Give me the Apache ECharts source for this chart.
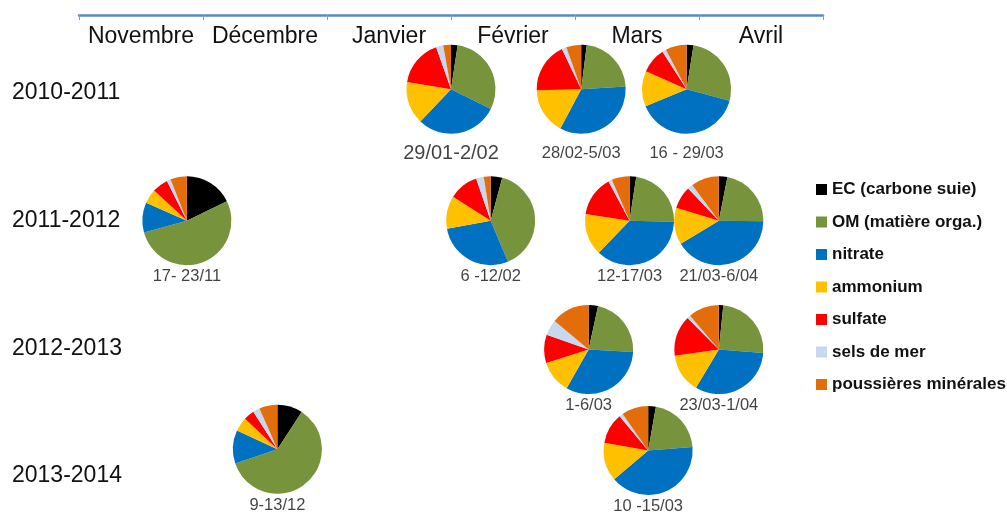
<!DOCTYPE html>
<html>
<head>
<meta charset="utf-8">
<title>Composition des PM</title>
<script src="https://cdn.jsdelivr.net/npm/echarts@6/dist/echarts.min.js"></script>
<style>
  html, body { margin: 0; padding: 0; background: #ffffff; }
  #chart { width: 1007px; height: 514px; }
</style>
</head>
<body>
<div id="chart"></div>
<script>
// Timeline categories
const months = ['Novembre', 'Décembre', 'Janvier', 'Février', 'Mars', 'Avril'];
const seasons = ['2010-2011', '2011-2012', '2012-2013', '2013-2014'];

// Chemical components (legend order = slice order, clockwise from the top)
const components = ['EC (carbone suie)', 'OM (matière orga.)', 'nitrate', 'ammonium',
                    'sulfate', 'sels de mer', 'poussières minérales'];
const componentColors = ['#000000', '#77933C', '#0070C0', '#FFC000', '#FF0000', '#C6D9F1', '#E46C0A'];

// Sampling periods
const periods = ['29/01-2/02', '28/02-5/03', '16 - 29/03',
                 '17- 23/11', '6 -12/02', '12-17/03', '21/03-6/04',
                 '1-6/03', '23/03-1/04',
                 '9-13/12', '10 -15/03'];
// where each period sits on the month scale (0 = start of November) and on the season scale
const periodMonth = [3.0, 4.05, 4.9, 0.87, 3.32, 4.44, 5.16, 4.11, 5.16, 1.6, 4.59];
const periodSeason = [-0.03, -0.03, -0.03, 1.0, 1.0, 1.0, 1.0, 2.01, 2.01, 2.79, 2.8];

// Share of each component per period (%)
const ec        = [2.4, 2.0, 2.5, 17.8, 4.2, 2.4, 3.1, 3.4, 1.6, 9.2, 2.8];
const om        = [30.0, 22.0, 26.7, 52.9, 39.4, 23.0, 22.1, 22.5, 24.6, 60.6, 21.0];
const nitrate   = [29.7, 33.7, 39.5, 10.9, 28.4, 36.7, 41.1, 32.4, 32.4, 12.1, 40.0];
const ammonium  = [15.5, 16.8, 12.9, 5.2, 11.9, 15.2, 13.3, 11.9, 14.2, 5.1, 14.0];
const sulfate   = [17.0, 18.3, 9.3, 5.8, 10.7, 14.8, 8.2, 10.3, 14.8, 3.9, 11.1];
const seaSalt   = [2.6, 1.7, 1.4, 1.4, 2.8, 1.3, 1.9, 5.7, 1.2, 2.5, 1.4];
const dust      = [2.8, 5.4, 7.7, 6.0, 2.5, 6.5, 10.2, 13.9, 11.2, 6.6, 9.7];

const shares = [ec, om, nitrate, ammonium, sulfate, seaSalt, dust];

const FONT = '"Liberation Sans", Arial, Helvetica, sans-serif';
const TEXT = '#111111';
const PIE_RADIUS = 44.5;

const chart = echarts.init(document.getElementById('chart'), null, { renderer: 'canvas' });

// Period captions, anchored at each pie centre and pushed below it
const captionSeries = {
  type: 'scatter',
  xAxisIndex: 1,
  yAxisIndex: 1,
  symbolSize: 0,
  clip: false,
  silent: true,
  data: periods.map((name, i) => ({
    name: name,
    value: [periodMonth[i], periodSeason[i]],
    label: {
      offset: [0, periodSeason[i] < 0.5 ? 64 : 56],
      fontSize: i === 0 ? 20 : 16.5
    }
  })),
  label: {
    show: true,
    position: 'inside',
    formatter: p => p.name,
    color: TEXT,
    textBorderWidth: 0,
    textBorderColor: 'transparent',
    fontFamily: FONT
  }
};

chart.setOption({
  animation: false,
  textStyle: { fontFamily: FONT },
  grid: [
    { left: 79, right: 184, top: 93, bottom: 38 },   // pie area
    { left: 79, right: 184, top: 14, height: 1 }     // month timeline
  ],
  xAxis: [
    {
      type: 'category',
      gridIndex: 1,
      data: months,
      position: 'bottom',
      axisLine: { lineStyle: { color: '#5A8AC6', width: 2.5 } },
      axisTick: { show: true, length: 5, lineStyle: { color: '#9a9a9a' } },
      axisLabel: { interval: 0, margin: 10, fontSize: 23, color: TEXT, fontFamily: FONT },
      splitLine: { show: false }
    },
    { type: 'value', gridIndex: 0, min: 0, max: 6, show: false }
  ],
  yAxis: [
    {
      type: 'category',
      gridIndex: 0,
      data: seasons,
      inverse: true,
      boundaryGap: false,
      axisLine: { show: false },
      axisTick: { show: false },
      axisLabel: { align: 'left', margin: 67, fontSize: 23, color: TEXT, fontFamily: FONT },
      splitLine: { show: false }
    },
    { type: 'value', gridIndex: 0, min: 0, max: 3, inverse: true, show: false },
    { type: 'value', gridIndex: 1, show: false }
  ],
  legend: {
    data: components,
    orient: 'vertical',
    left: 816,
    top: 181,
    padding: 0,
    icon: 'rect',
    itemWidth: 11,
    itemHeight: 11,
    itemGap: 15.5,
    selectedMode: false,
    textStyle: { fontSize: 17, fontWeight: 'bold', color: TEXT, fontFamily: FONT }
  },
  series: [captionSeries]
});

// One pie per period, centred through the hidden value axes
const pies = periods.map((name, i) => {
  const center = chart.convertToPixel({ seriesIndex: 0 }, [periodMonth[i], periodSeason[i]]);
  return {
    type: 'pie',
    name: name,
    center: center,
    radius: PIE_RADIUS,
    startAngle: 90,
    clockwise: true,
    silent: true,
    avoidLabelOverlap: false,
    label: { show: false },
    labelLine: { show: false },
    emphasis: { disabled: true },
    itemStyle: { borderWidth: 0 },
    data: components.map((c, k) => ({
      name: c,
      value: shares[k][i],
      itemStyle: { color: componentColors[k] }
    }))
  };
});

chart.setOption({ series: [captionSeries].concat(pies) });
</script>
</body>
</html>
